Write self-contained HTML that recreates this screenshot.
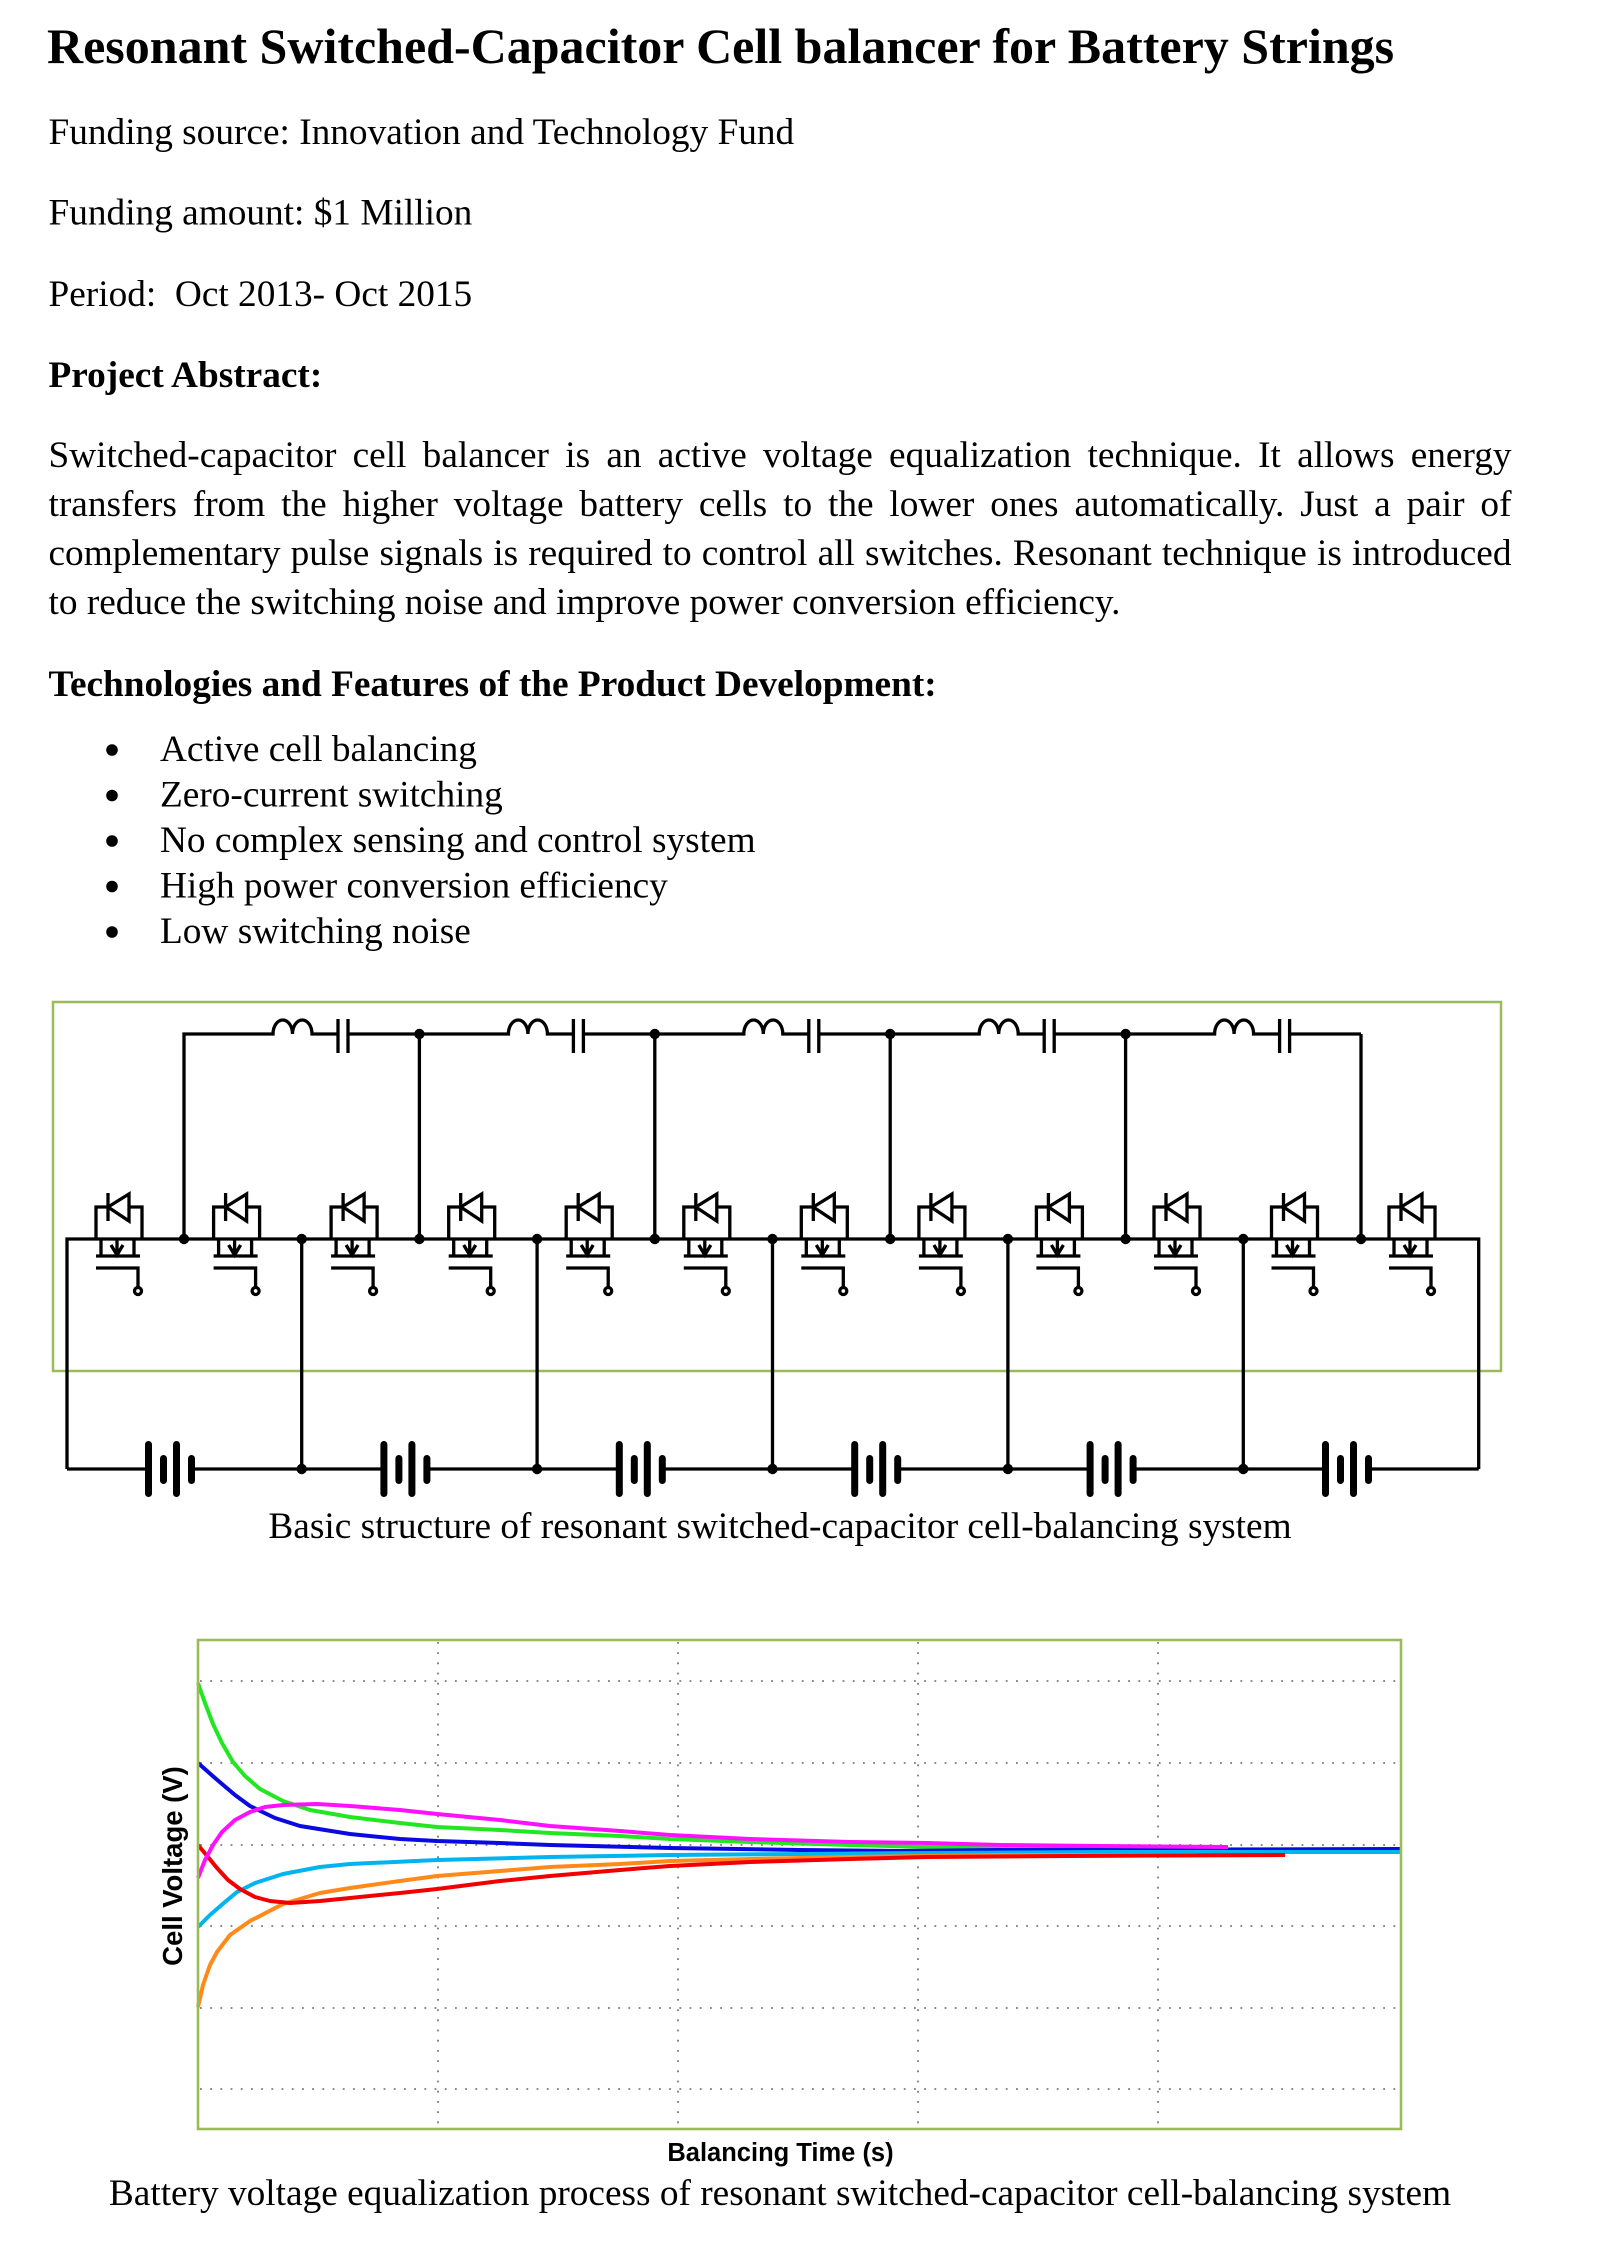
<!DOCTYPE html>
<html><head><meta charset="utf-8">
<style>
html,body{margin:0;padding:0;background:#fff;}
#p{position:relative;width:1600px;height:2265px;overflow:hidden;background:#fff;}
#p svg{position:absolute;left:0;top:0;}
.j{position:absolute;left:48.5px;width:1463px;font-family:"Liberation Serif",serif;font-size:37.3px;line-height:37.3px;color:#000;text-align:justify;text-align-last:justify;white-space:normal;}
.l{position:absolute;left:48.5px;width:1463px;font-family:"Liberation Serif",serif;font-size:37.3px;line-height:37.3px;color:#000;text-align:left;white-space:nowrap;}
</style></head>
<body><div id="p">
<svg width="1600" height="2265" viewBox="0 0 1600 2265" xmlns="http://www.w3.org/2000/svg">
<defs>
<g id="fet" fill="none" stroke="#000" stroke-width="3.3">
 <path d="M-23,1239 V1207 H-11 M10,1207 H23 V1239"/>
 <path d="M-11,1193 V1221"/>
 <path d="M10,1194 V1221 L-11,1207 Z" stroke-linejoin="miter"/>
 <path d="M-18,1239 V1257 M15,1239 V1257 M-23,1256 H21"/>
 <path d="M-2,1239 V1255 M-8,1245 L-2,1255 L4,1245"/>
 <path d="M-23,1268 H19 V1287"/>
 <circle cx="19" cy="1291" r="3.5" fill="#fff"/>
</g>
<g id="seg" fill="none" stroke="#000" stroke-width="3.3">
 <path d="M184,1239 V1034 H273 A9.75 14 0 0 1 292.5,1034 A9.75 14 0 0 1 312,1034 H338 M348,1034 H419.4"/>
 <path d="M338,1019 V1053 M348,1019 V1053"/>
</g>
<g id="bat" fill="none" stroke="#000" stroke-width="7" stroke-linecap="round">
 <path d="M-21.5,1444.5 V1493.5 M6.5,1444.5 V1493.5"/>
 <path d="M-6.5,1458.5 V1480.5 M21.5,1458.5 V1480.5"/>
</g>
</defs>

<!-- Text -->
<g font-family="'Liberation Serif', serif" fill="#000">
<text x="47" y="63" font-size="50" font-weight="bold">Resonant Switched-Capacitor Cell balancer for Battery Strings</text>
<text x="48.5" y="144" font-size="37.3">Funding source: Innovation and Technology Fund</text>
<text x="48.5" y="224.5" font-size="37.3">Funding amount: $1 Million</text>
<text x="48.5" y="306" font-size="37.3">Period:&#160; Oct 2013- Oct 2015</text>
<text x="48.5" y="387" font-size="37.3" font-weight="bold">Project Abstract:</text>
<text x="48.5" y="696" font-size="37.3" font-weight="bold">Technologies and Features of the Product Development:</text>
<text x="160" y="761" font-size="37.3">Active cell balancing</text>
<text x="160" y="806.5" font-size="37.3">Zero-current switching</text>
<text x="160" y="852" font-size="37.3">No complex sensing and control system</text>
<text x="160" y="897.5" font-size="37.3">High power conversion efficiency</text>
<text x="160" y="943" font-size="37.3">Low switching noise</text>
<text x="780" y="1538" font-size="37.3" text-anchor="middle">Basic structure of resonant switched-capacitor cell-balancing system</text>
<text x="780" y="2205" font-size="37.3" text-anchor="middle">Battery voltage equalization process of resonant switched-capacitor cell-balancing system</text>
</g>
<g fill="#000">
<circle cx="112" cy="750" r="5.8"/>
<circle cx="112" cy="795.5" r="5.8"/>
<circle cx="112" cy="841" r="5.8"/>
<circle cx="112" cy="886.5" r="5.8"/>
<circle cx="112" cy="932" r="5.8"/>
</g>

<!-- Circuit -->
<rect x="53" y="1002" width="1448" height="369" fill="none" stroke="#9bbb59" stroke-width="2.5"/>
<use href="#seg"/>
<use href="#seg" x="235.4"/>
<use href="#seg" x="470.8"/>
<use href="#seg" x="706.2"/>
<use href="#seg" x="941.6"/>
<g fill="none" stroke="#000" stroke-width="3.3">
 <path d="M1361,1034 V1239"/>
 <path d="M67,1469 V1239 H1478.7 V1469"/>
 <path d="M301.7,1239 V1469 M537.1,1239 V1469 M772.5,1239 V1469 M1007.9,1239 V1469 M1243.3,1239 V1469"/>
 <path d="M67,1469 H148.5 M191.5,1469 H383.9 M426.9,1469 H619.3 M662.3,1469 H854.7 M897.7,1469 H1090.1 M1133.1,1469 H1325.5 M1368.5,1469 H1478.7"/>
</g>
<use href="#bat" x="170"/>
<use href="#bat" x="405.4"/>
<use href="#bat" x="640.8"/>
<use href="#bat" x="876.2"/>
<use href="#bat" x="1111.6"/>
<use href="#bat" x="1347"/>
<use href="#fet" x="119"/>
<use href="#fet" x="236.6"/>
<use href="#fet" x="354.1"/>
<use href="#fet" x="471.7"/>
<use href="#fet" x="589.2"/>
<use href="#fet" x="706.8"/>
<use href="#fet" x="824.3"/>
<use href="#fet" x="941.9"/>
<use href="#fet" x="1059.4"/>
<use href="#fet" x="1177"/>
<use href="#fet" x="1294.5"/>
<use href="#fet" x="1412"/>
<g fill="#000">
 <circle cx="184" cy="1239" r="5.2"/>
 <circle cx="301.7" cy="1239" r="5.2"/>
 <circle cx="419.4" cy="1239" r="5.2"/>
 <circle cx="537.1" cy="1239" r="5.2"/>
 <circle cx="654.8" cy="1239" r="5.2"/>
 <circle cx="772.5" cy="1239" r="5.2"/>
 <circle cx="890.2" cy="1239" r="5.2"/>
 <circle cx="1007.9" cy="1239" r="5.2"/>
 <circle cx="1125.6" cy="1239" r="5.2"/>
 <circle cx="1243.3" cy="1239" r="5.2"/>
 <circle cx="1361" cy="1239" r="5.2"/>
 <circle cx="419.4" cy="1034" r="5.2"/>
 <circle cx="654.8" cy="1034" r="5.2"/>
 <circle cx="890.2" cy="1034" r="5.2"/>
 <circle cx="1125.6" cy="1034" r="5.2"/>
 <circle cx="301.7" cy="1469" r="5.2"/>
 <circle cx="537.1" cy="1469" r="5.2"/>
 <circle cx="772.5" cy="1469" r="5.2"/>
 <circle cx="1007.9" cy="1469" r="5.2"/>
 <circle cx="1243.3" cy="1469" r="5.2"/>
</g>

<!-- Chart -->
<g stroke="#7a7a7a" stroke-width="1.8" stroke-dasharray="1.8 8.4" fill="none">
 <path d="M438,1642 V2128 M678,1642 V2128 M918,1642 V2128 M1158,1642 V2128"/>
 <path d="M200,1681 H1400 M200,1763 H1400 M200,1845 H1400 M200,1926 H1400 M200,2008 H1400 M200,2089 H1400"/>
</g>
<g fill="none" stroke-width="4" stroke-linejoin="round" stroke-linecap="butt">
 <polyline stroke="#22e622" points="198,1683 205,1703 213,1724 222,1743 233,1762 245,1776 260,1789 283,1801 310,1810 350,1817 400,1823 437,1827 500,1830 550,1833 620,1836 670,1839 750,1842 850,1845 927,1847 1040,1848 1100,1849"/>
 <polyline stroke="#0a0ae0" points="198,1763 215,1778 235,1795 250,1806 275,1818 300,1826 350,1834 400,1839 437,1841 500,1843 550,1845 670,1848 800,1850 900,1851 1000,1850 1400,1849"/>
 <polyline stroke="#00b4f0" points="198,1927 210,1915 225,1902 237,1892 255,1883 283,1874 320,1867 350,1864 437,1860 550,1857 670,1855 800,1854 927,1853 1100,1852 1400,1852"/>
 <polyline stroke="#ff8a1a" points="198,2007 203,1985 210,1965 217,1952 230,1935 250,1921 283,1904 320,1893 350,1888 400,1881 437,1876 500,1871 550,1867 620,1864 670,1861 750,1859 850,1857 927,1856 1000,1855 1197,1855"/>
 <polyline stroke="#f00000" points="198,1845 208,1857 217,1868 228,1880 240,1889 255,1897 270,1901 290,1903 320,1901 350,1898 400,1893 437,1889 500,1881 550,1876 620,1870 670,1866 750,1862 850,1859 927,1857 1070,1856 1285,1855"/>
 <polyline stroke="#ff10ff" points="198,1878 205,1860 213,1845 222,1832 235,1820 250,1812 265,1807 283,1805 317,1804 350,1806 400,1810 437,1814 500,1820 550,1826 620,1831 670,1835 750,1839 850,1842 927,1843 1000,1845 1100,1846 1228,1847"/>
</g>
<rect x="198" y="1640" width="1203" height="489" fill="none" stroke="#9bbb59" stroke-width="2.6"/>
<text x="780.5" y="2161" font-family="'Liberation Sans', sans-serif" font-weight="bold" font-size="25.5" text-anchor="middle" fill="#000">Balancing Time (s)</text>
<text transform="translate(182,1866) rotate(-90)" font-family="'Liberation Sans', sans-serif" font-weight="bold" font-size="27.5" text-anchor="middle" fill="#000">Cell Voltage (V)</text>
</svg>

<div class="j" style="top:436.8px;">Switched-capacitor cell balancer is an active voltage equalization technique. It allows energy</div>
<div class="j" style="top:485.8px;">transfers from the higher voltage battery cells to the lower ones automatically. Just a pair of</div>
<div class="j" style="top:534.8px;">complementary pulse signals is required to control all switches. Resonant technique is introduced</div>
<div class="l" style="top:583.8px;">to reduce the switching noise and improve power conversion efficiency.</div>
</div></body></html>
